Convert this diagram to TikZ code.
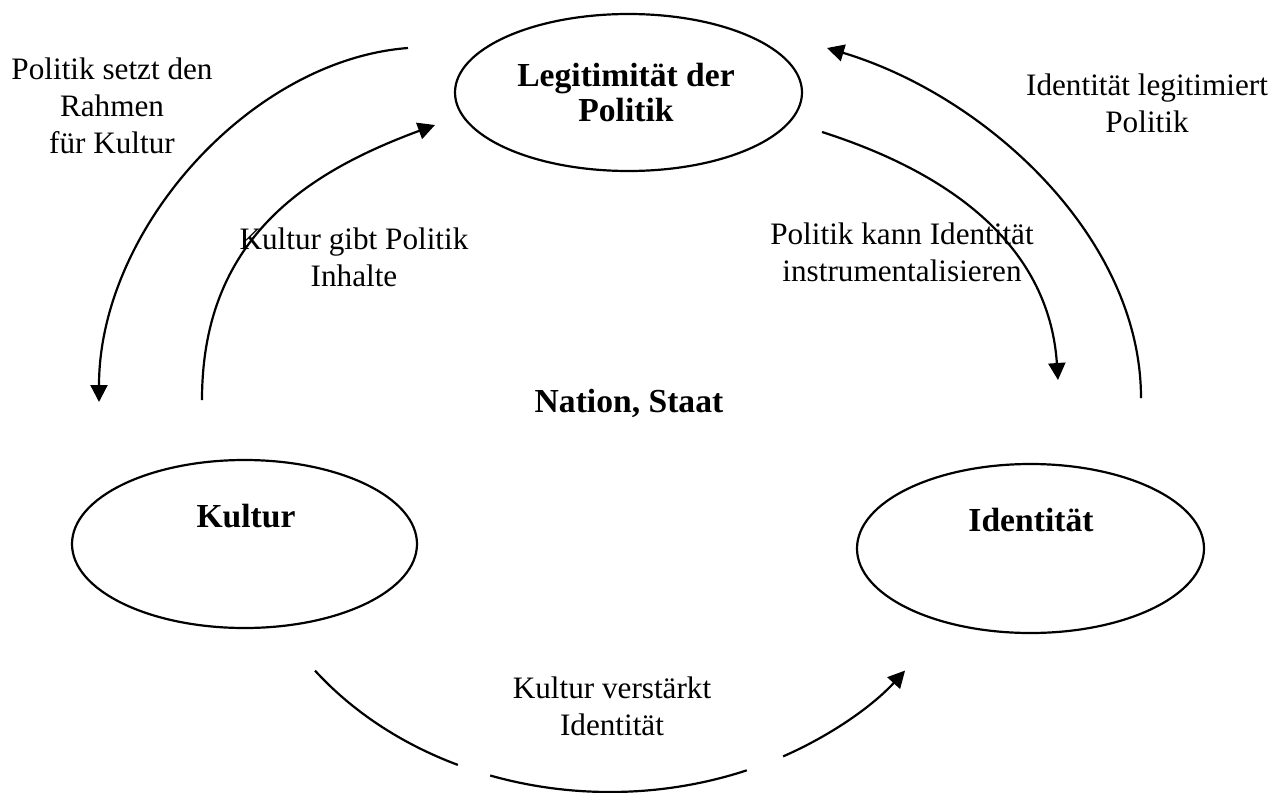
\documentclass[tikz,border=0pt]{standalone}
\usepackage{fontspec}
\setmainfont{Liberation Serif}
\usetikzlibrary{shapes.geometric,arrows.meta}
\tikzset{
  oval/.style={ellipse, draw, line width=1.1pt, inner sep=0pt},
  lbl/.style={align=center, font=\fontsize{15.6}{18.5}\selectfont, inner sep=0pt},
  heading/.style={align=center, font=\fontsize{16.8}{17.5}\selectfont\bfseries, inner sep=0pt},
  flow/.style={line width=1.1pt, -{Triangle[width=8.5pt,length=8.5pt]}},
  plainline/.style={line width=1.1pt},
}
\begin{document}
\begin{tikzpicture}[x=0.5pt,y=-0.5pt]
\useasboundingbox (0,0) rectangle (1286,793);
% ellipses
\node[oval, minimum width=173.5pt, minimum height=78.5pt] (legE) at (628.5,92.5) {};
\node[oval, minimum width=172.5pt, minimum height=84pt] (kulE) at (244.5,544) {};
\node[oval, minimum width=173.5pt, minimum height=84.5pt] (idE) at (1030.5,548.5) {};
% headings
\node[heading] (legit) at (626,93) {Legitimität der\\Politik};
\node[heading] (kul) at (246,516) {Kultur};
\node[heading] (ident) at (1031,520) {Identität};
\node[heading] (nation) at (629,403) {Nation, Staat};
% labels
\node[lbl] (t1) at (112,106) {Politik setzt den\\Rahmen\\für Kultur};
\node[lbl] (t2) at (354,257) {Kultur gibt Politik\\Inhalte};
\node[lbl] (t3) at (902,252) {Politik kann Identität\\instrumentalisieren};
\node[lbl] (t4) at (1147,103) {Identität legitimiert\\Politik};
\node[lbl] (t5) at (612,706) {Kultur verstärkt\\Identität};
% arc end points
\coordinate (a1) at (408,48);   \coordinate (a2) at (99,402);
\coordinate (b1) at (202,400);  \coordinate (b2) at (435,125);
\coordinate (c1) at (822,132);  \coordinate (c2) at (1058,380);
\coordinate (d1) at (1141,398); \coordinate (d2) at (827,48);
\coordinate (e1) at (315,670.6);
\coordinate (e2) at (490.2,775.5);
\coordinate (e3) at (783.1,756.4);
% arcs
\draw[flow] (a1) .. controls (250,60) and (99,230) .. (a2);
\draw[flow] (b1) .. controls (202,240) and (305,173) .. (b2);
\draw[flow] (c1) .. controls (972,180) and (1050,260) .. (c2);
\draw[flow] (d1) .. controls (1141,238) and (987,96) .. (d2);
\draw[plainline] (e1) arc[start angle=-142.9, end angle=-114.3, x radius=185pt, y radius=153pt];
\draw[plainline] (e2) arc[start angle=-108.9, end angle=-68.3, x radius=185pt, y radius=153pt];
\draw[flow] (e3) arc[start angle=-62.1, end angle=-37.1, x radius=185pt, y radius=153pt];
\end{tikzpicture}
\end{document}
